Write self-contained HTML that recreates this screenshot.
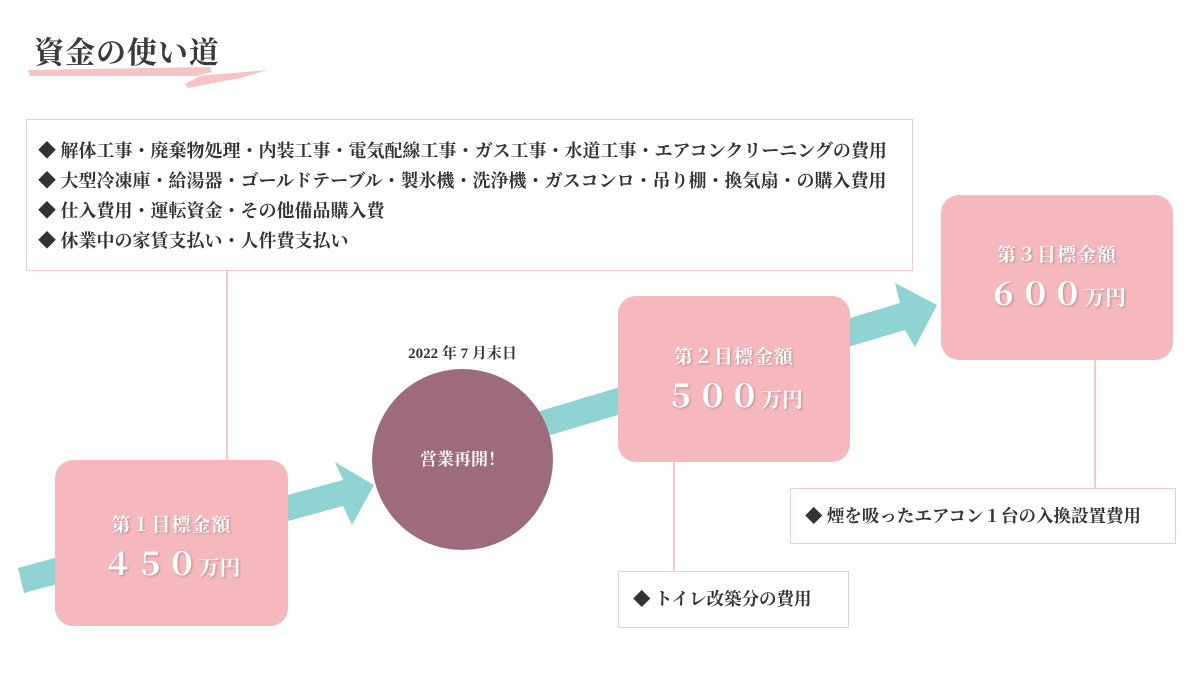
<!DOCTYPE html>
<html><head><meta charset="utf-8"><style>
body{margin:0;width:1200px;height:700px;background:#fff;position:relative;overflow:hidden;font-family:"Liberation Serif","Noto Serif CJK SC",serif;color:#333;}
.a{position:absolute;box-sizing:border-box}
.pb{background:#f5b8bd;border-radius:18px;color:#fff;text-align:center;font-weight:bold;text-shadow:1px 1px 2px rgba(0,0,0,.25)}
.pb .t{font-size:19px;letter-spacing:1px}
.pb .n{font-size:31px;letter-spacing:1px;margin-top:2px}
.pb .n span{font-size:21px;letter-spacing:0}
.bx{border:1.5px solid #f2c9ce;background:#fff;font-weight:bold;font-size:17.5px;color:#333}
.ln{position:absolute;width:1.5px;background:#f2c9ce}
</style></head><body>
<div class="a" style="left:34px;top:28px;font-size:30px;font-weight:bold;color:#3a3a3a;letter-spacing:1px">資金の使い道</div>
<svg class="a" style="left:0;top:0" width="1200" height="700">
<path d="M28 70 L210 67 L212 72 L196 76 L268 70 L240 78 L188 88 L185 84 L200 76 L30 76 Z" fill="#f5b8bd" opacity=".85"/>
<polygon points="18,568 343,480 335,462 374,485 352,525 343,506 24,593" fill="#8fd3d3"/>
<polygon points="530,414 900,303 895,283 937,305 915,347 905,330 530,441" fill="#8fd3d3"/>
</svg>
<div class="ln" style="left:226px;top:270px;height:190px"></div>
<div class="ln" style="left:673px;top:462px;height:109px"></div>
<div class="ln" style="left:1094px;top:359px;height:129px"></div>
<div class="a bx" style="left:26px;top:119px;width:887px;height:152px;padding:16px 0 0 11px;line-height:30px;white-space:nowrap;font-size:18px">
◆ 解体工事・廃棄物処理・内装工事・電気配線工事・ガス工事・水道工事・エアコンクリーニングの費用<br>
◆ 大型冷凍庫・給湯器・ゴールドテーブル・製氷機・洗浄機・ガスコンロ・吊り棚・換気扇・の購入費用<br>
◆ 仕入費用・運転資金・その他備品購入費<br>
◆ 休業中の家賃支払い・人件費支払い</div>
<div class="a pb" style="left:55px;top:460px;width:233px;height:166px;padding-top:50px"><div class="t">第１目標金額</div><div class="n">４５０<span>万円</span></div></div>
<div class="a pb" style="left:618px;top:296px;width:232px;height:166px;padding-top:46px"><div class="t">第２目標金額</div><div class="n">５００<span>万円</span></div></div>
<div class="a pb" style="left:941px;top:195px;width:232px;height:165px;padding-top:45px"><div class="t">第３目標金額</div><div class="n">６００<span>万円</span></div></div>
<div class="a" style="left:372px;top:369px;width:181px;height:181px;border-radius:50%;background:#9e6a7e;color:#fff;font-weight:bold;font-size:17px;text-align:center;line-height:181px">営業再開！</div>
<div class="a" style="left:372px;top:342px;width:181px;text-align:center;font-weight:bold;font-size:15px">2022 年 7 月末日</div>
<div class="a bx" style="left:618px;top:571px;width:231px;height:57px;line-height:55px;padding-left:14px">◆ トイレ改築分の費用</div>
<div class="a bx" style="left:790px;top:488px;width:386px;height:56px;line-height:54px;padding-left:14px">◆ 煙を吸ったエアコン１台の入換設置費用</div>
</body></html>
